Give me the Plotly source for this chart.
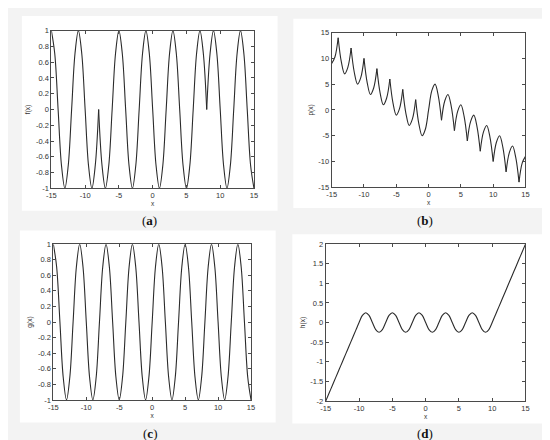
import plotly.graph_objects as go

# sample positions shared by all four curves
X = [-15, -14.5, -14, -13.5, -13, -12.5, -12, -11.5, -11, -10.5,
     -10, -9.5, -9, -8.5, -8, -7.5, -7, -6.5, -6, -5.5,
     -5, -4.5, -4, -3.5, -3, -2.5, -2, -1.5, -1, -0.5,
     0, 0.5, 1, 1.5, 2, 2.5, 3, 3.5, 4, 4.5,
     5, 5.5, 6, 6.5, 7, 7.5, 8, 8.5, 9, 9.5,
     10, 10.5, 11, 11.5, 12, 12.5, 13, 13.5, 14, 14.5, 15]

# (a) f(x)
F = [1, .71, 0, -.71, -1, -.71, 0, .71,
     1, .71, 0, -.71, -1, -.71, 0,
     -.71,
     -1, -.71, 0, .71, 1, .71, 0, -.71,
     -1, -.71, 0, .71, 1, .71, 0, -.71,
     -1, -.71, 0, .71, 1, .71, 0, -.71,
     -1, -.71, 0, .71, 1, .71,
     0,
     .71,
     1, .71, 0, -.71, -1, -.71, 0, .71,
     1, .71, 0, -.71, -1]
CUSPS_A = [-8, 8]

# (b) p(x)
P = [9, 10.26, 14, 9.26, 7, 8.26, 12, 7.26, 5, 6.26,
     10, 5.26, 3, 4.26, 8, 3.26, 1, 2.26, 6, 1.26,
     -1, 0.26, 4, -0.74, -3, -1.74, 2, -2.74, -5, -3.74,
     0, 3.74, 5, 2.74, -2, 1.74, 3, 0.74, -4, -0.26,
     1, -1.26, -6, -2.26, -1, -3.26, -8, -4.26, -3, -5.26,
     -10, -6.26, -5, -7.26, -12, -8.26, -7, -9.26, -14, -10.26, -9]
CUSPS_B = [-14, -12, -10, -8, -6, -4, -2, 2, 4, 6, 8, 10, 12, 14]

# (c) g(x)
G = [1, .71, 0, -.71, -1, -.71, 0, .71,
     1, .71, 0, -.71, -1, -.71, 0, .71,
     1, .71, 0, -.71, -1, -.71, 0, .71,
     1, .71, 0, -.71, -1, -.71, 0, .71,
     1, .71, 0, -.71, -1, -.71, 0, .71,
     1, .71, 0, -.71, -1, -.71, 0, .71,
     1, .71, 0, -.71, -1, -.71, 0, .71,
     1, .71, 0, -.71, -1]

# (d) h(x)
H = [-2, -1.8, -1.6, -1.4, -1.2, -1, -0.8, -0.6, -0.4, -0.2,
     0, .18, .25, .18, 0, -.18, -.25, -.18,
     0, .18, .25, .18, 0, -.18, -.25, -.18,
     0, .18, .25, .18, 0, -.18, -.25, -.18,
     0, .18, .25, .18, 0, -.18, -.25, -.18,
     0, .18, .25, .18, 0, -.18, -.25, -.18,
     0, 0.2, 0.4, 0.6, 0.8, 1, 1.2, 1.4, 1.6, 1.8, 2]

X_TICKS = [-15, -10, -5, 0, 5, 10, 15]
Y_TICKS_UNIT = [-1, -0.8, -0.6, -0.4, -0.2, 0, 0.2, 0.4, 0.6, 0.8, 1]
Y_TICKS_B = [-15, -10, -5, 0, 5, 10, 15]
Y_TICKS_D = [-2, -1.5, -1, -0.5, 0, 0.5, 1, 1.5, 2]

LABELS = ['a', 'b', 'c', 'd']
Y_TITLES = ['f(x)', 'p(x)', 'g(x)', 'h(x)']

W, H_PX = 550, 440
LINE = '#2b2b2b'
AXIS = '#4a4a4a'


def fmt(v):
    return '{:g}'.format(v)


def split_at(xs, ys, cusps):
    """Cut a curve into pieces at the sharp corners so the spline keeps them."""
    pieces, cur_x, cur_y = [], [], []
    for x, y in zip(xs, ys):
        cur_x.append(x)
        cur_y.append(y)
        if x in cusps:
            pieces.append((cur_x, cur_y))
            cur_x, cur_y = [x], [y]
    pieces.append((cur_x, cur_y))
    return pieces


# panel boxes in pixels: plot area (l, t, r, b), white card (l, t, r, b), caption centre
panels = [
    dict(plot=(39, 19, 245, 180), card=(9, 4, 269, 203), cap=(139, 213)),
    dict(plot=(324, 21, 521, 179), card=(285, 7, 542, 200), cap=(419, 213)),
    dict(plot=(41, 237, 242, 396), card=(7, 223, 267, 419), cap=(139, 430)),
    dict(plot=(318, 237, 521, 397), card=(284, 227, 542, 420), cap=(419, 430)),
]
curves = [(F, CUSPS_A, Y_TICKS_UNIT), (P, CUSPS_B, Y_TICKS_B),
          (G, [], Y_TICKS_UNIT), (H, [], Y_TICKS_D)]

fig = go.Figure()
shapes, annotations = [], []
tick_font = dict(family='Liberation Sans, Arial', size=7.5, color='#333333')

for k, (p, (ys, cusps, yticks)) in enumerate(zip(panels, curves)):
    n = '' if k == 0 else str(k + 1)
    for px, py in split_at(X, ys, cusps):
        fig.add_trace(go.Scatter(x=px, y=py, mode='lines', showlegend=False,
                                 line=dict(color=LINE, width=1.1, shape='spline', smoothing=1),
                                 xaxis='x' + n, yaxis='y' + n))
    l, t, r, b = p['plot']
    axis_common = dict(showgrid=False, zeroline=False, showline=True, linecolor=AXIS,
                       linewidth=1, mirror='ticks', ticks='inside', ticklen=3,
                       tickcolor=AXIS, tickfont=tick_font, fixedrange=True)
    fig.update_layout(**{
        'xaxis' + n: dict(domain=[l / W, r / W], anchor='y' + n, range=[-15, 15],
                          tickvals=X_TICKS, ticktext=[fmt(v) for v in X_TICKS],
                          title=dict(text='x', font=dict(family='Liberation Sans, Arial', size=6.5,
                                                         color='#333333'), standoff=2),
                          **axis_common),
        'yaxis' + n: dict(domain=[1 - b / H_PX, 1 - t / H_PX], anchor='x' + n,
                          range=[yticks[0], yticks[-1]],
                          tickvals=yticks, ticktext=[fmt(v) for v in yticks],
                          title=dict(text=Y_TITLES[k], font=dict(family='Liberation Sans, Arial', size=6.5,
                                                                 color='#333333'), standoff=4),
                          **axis_common),
    })
    cl, ct, cr, cb = p['card']
    shapes.append(dict(type='rect', xref='paper', yref='paper', layer='below',
                       x0=cl / W, x1=cr / W, y0=1 - cb / H_PX, y1=1 - ct / H_PX,
                       fillcolor='white', line_width=0))
    cx, cy = p['cap']
    annotations.append(dict(text='(<b>{}</b>)'.format(LABELS[k]), xref='paper', yref='paper',
                            x=cx / W, y=1 - cy / H_PX, xanchor='center', yanchor='middle',
                            showarrow=False,
                            font=dict(family='Liberation Serif, Times New Roman', size=13,
                                      color='#111111')))

fig.update_layout(width=W, height=H_PX, margin=dict(l=0, r=0, t=0, b=0),
                  paper_bgcolor='#f3f3f3', plot_bgcolor='white',
                  shapes=shapes, annotations=annotations)

fig.write_html("out.html")
